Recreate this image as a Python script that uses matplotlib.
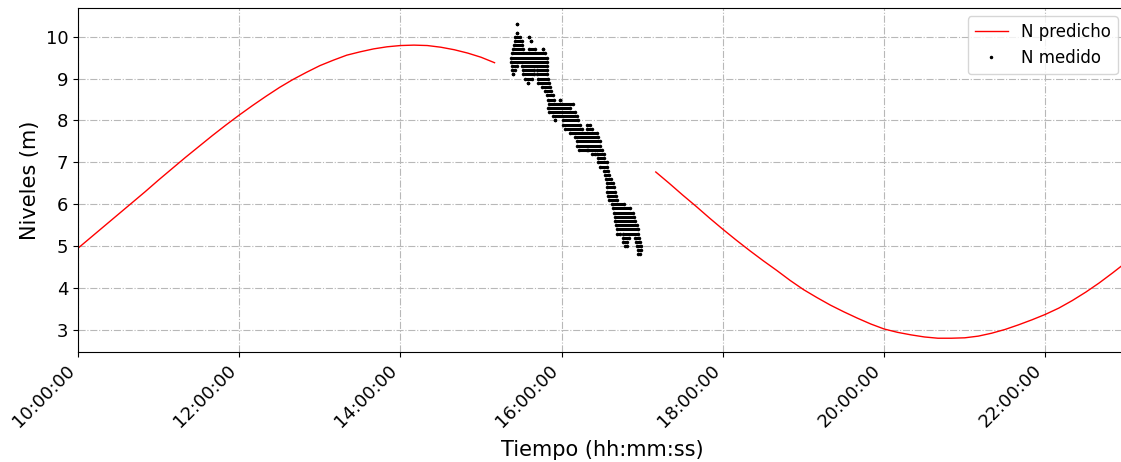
import numpy as np
import pandas as pd
import matplotlib
matplotlib.use('Agg')
import matplotlib.pyplot as plt
import matplotlib.dates as mdates

dia = '2000-01-01 '

# nivel predicho (m), dos tramos, cada 10 minutos
pred_hora_1 = ['10:00', '10:10', '10:20', '10:30', '10:40', '10:50', '11:00', '11:10',
               '11:20', '11:30', '11:40', '11:50', '12:00', '12:10', '12:20', '12:30',
               '12:40', '12:50', '13:00', '13:10', '13:20', '13:30', '13:40', '13:50',
               '14:00', '14:10', '14:20', '14:30', '14:40', '14:50', '15:00', '15:10']
pred_nivel_1 = [4.95, 5.22, 5.49, 5.76, 6.03, 6.30, 6.58, 6.85,
                7.12, 7.38, 7.64, 7.89, 8.13, 8.36, 8.58, 8.79,
                8.98, 9.15, 9.31, 9.44, 9.56, 9.64, 9.71, 9.76,
                9.79, 9.80, 9.79, 9.75, 9.69, 9.61, 9.51, 9.38]

pred_hora_2 = ['17:10', '17:20', '17:30', '17:40', '17:50', '18:00', '18:10', '18:20',
               '18:30', '18:40', '18:50', '19:00', '19:10', '19:20', '19:30', '19:40',
               '19:50', '20:00', '20:10', '20:20', '20:30', '20:40', '20:50', '21:00',
               '21:10', '21:20', '21:30', '21:40', '21:50', '22:00', '22:10', '22:20',
               '22:30', '22:40', '22:50', '23:00']
pred_nivel_2 = [6.77, 6.50, 6.22, 5.95, 5.67, 5.40, 5.14, 4.89,
                4.65, 4.42, 4.18, 3.96, 3.77, 3.59, 3.43, 3.28,
                3.14, 3.02, 2.94, 2.88, 2.83, 2.80, 2.80, 2.81,
                2.85, 2.92, 3.01, 3.12, 3.24, 3.37, 3.52, 3.70,
                3.90, 4.12, 4.36, 4.61]

# nivel medido: tramos horizontales (nivel, minuto inicial, minuto final, desde las 15:00)
med_nivel = [10.3, 10.1, 10.0, 10.0, 9.9, 9.9, 9.8, 9.7, 9.7, 9.7,
             9.6, 9.5, 9.4, 9.3, 9.3, 9.2, 9.2, 9.2, 9.1, 9.1, 9.1,
             9.0, 9.0, 8.9, 8.9, 8.8, 8.7, 8.6, 8.5, 8.5,
             8.4, 8.3, 8.2, 8.1, 8.0, 8.0, 7.9, 7.9, 7.8, 7.8,
             7.7, 7.6, 7.5, 7.4, 7.3, 7.3, 7.2, 7.2, 7.1, 7.0, 6.9,
             6.8, 6.7, 6.6, 6.5, 6.4, 6.3, 6.2, 6.1, 6.0,
             5.9, 5.8, 5.7, 5.6, 5.5, 5.4, 5.3, 5.3, 5.2, 5.2,
             5.1, 5.1, 5.0, 5.0, 4.9, 4.8]
med_ini = [26.5, 26.5, 25.3, 35.7, 25.3, 37.2, 24.6, 24.1, 36.0, 45.9,
           22.8, 22.1, 22.1, 22.8, 30.3, 22.8, 31.0, 41.4, 23.6, 31.5, 41.4,
           32.7, 42.7, 34.7, 42.7, 45.2, 47.6, 49.4, 50.1, 58.8,
           50.9, 50.1, 50.9, 53.8, 55.1, 60.8, 61.3, 78.6, 62.5, 78.6,
           66.2, 70.0, 71.7, 71.7, 73.2, 79.9, 82.4, 86.1, 87.3, 87.3, 88.6,
           91.1, 92.3, 93.0, 93.5, 94.0, 94.0, 94.8, 95.3, 97.3,
           98.5, 99.0, 99.7, 99.7, 100.5, 101.0, 101.0, 105.4, 105.9, 114.6,
           105.9, 115.4, 107.2, 115.9, 117.1, 117.1]
med_fin = [26.5, 26.5, 29.0, 35.7, 30.3, 37.2, 30.8, 31.5, 40.2, 45.9,
           47.6, 48.9, 49.4, 26.5, 48.9, 25.3, 39.0, 49.4, 23.6, 39.0, 49.4,
           37.7, 50.1, 34.7, 50.9, 51.4, 51.9, 53.3, 54.3, 58.8,
           68.7, 66.2, 70.0, 71.7, 55.1, 72.4, 73.7, 81.1, 74.9, 82.4,
           86.6, 87.3, 88.6, 88.6, 78.6, 89.8, 84.9, 91.1, 91.8, 93.5, 94.0,
           94.8, 95.5, 96.5, 98.5, 99.0, 99.7, 100.5, 101.5, 106.0,
           110.9, 112.9, 113.9, 114.6, 115.9, 117.1, 103.0, 117.1, 109.7, 117.8,
           108.9, 118.3, 108.9, 118.8, 118.8, 118.3]

t1 = pd.to_datetime([dia + h for h in pred_hora_1])
t2 = pd.to_datetime([dia + h for h in pred_hora_2])
base = pd.Timestamp(dia + '15:00')
t_ini = base + pd.to_timedelta(med_ini, unit='min')
t_fin = base + pd.to_timedelta(med_fin, unit='min')

fig, ax = plt.subplots(figsize=(11.21, 4.62), dpi=100)
# el eje derecho queda un poco fuera de la imagen (recortada)
fig.subplots_adjust(left=0.0696, right=1.0045, top=0.983, bottom=0.238)

ax.plot(t1, pred_nivel_1, color='red', lw=1, label='N predicho')
ax.plot(t2, pred_nivel_2, color='red', lw=1)

ax.hlines(med_nivel, mdates.date2num(t_ini), mdates.date2num(t_fin), color='k', lw=2.2)
ax.plot(t_ini, med_nivel, 'k.', markersize=3, label='N medido')
ax.plot(t_fin, med_nivel, 'k.', markersize=3)

ax.set_xlim(t1[0], t2[-1])
ax.set_ylim(2.47, 10.69)
ax.set_yticks(range(3, 11))
ax.xaxis.set_major_locator(mdates.HourLocator(byhour=range(0, 24, 2)))
ax.xaxis.set_major_formatter(mdates.DateFormatter('%H:%M:%S'))
plt.setp(ax.get_xticklabels(), rotation=45, ha='right')
ax.tick_params(labelsize=13)
ax.grid(True, linestyle='-.', color='#b8b8b8', lw=0.8)

ax.set_xlabel('Tiempo (hh:mm:ss)', fontsize=15, labelpad=6)
ax.set_ylabel('Niveles (m)', fontsize=15)
ax.legend(loc='upper right', fontsize=12)

plt.savefig('out.png')
